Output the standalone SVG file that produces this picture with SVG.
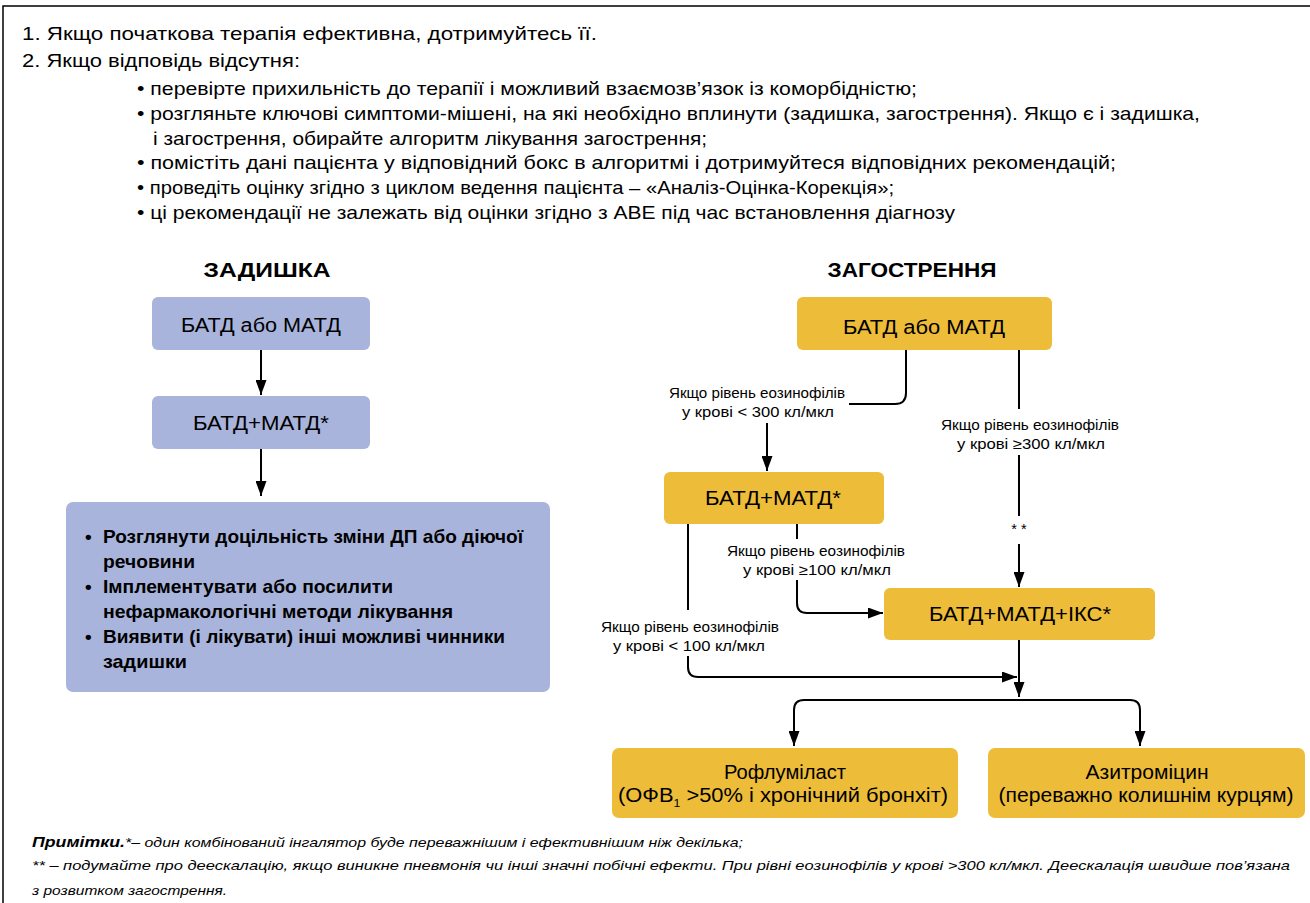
<svg xmlns="http://www.w3.org/2000/svg" width="1310" height="903" viewBox="0 0 1310 903">
<defs>
<marker id="arr" viewBox="0 0 15 11" refX="15" refY="5.5" markerWidth="15" markerHeight="11" markerUnits="userSpaceOnUse" orient="auto">
<path d="M0,0 L15,5.5 L0,11 z" fill="#000"/>
</marker>
<style>
.t{font-family:"Liberation Sans",Arial,sans-serif;fill:#000}
.top{font-size:18.5px}
.h{font-size:21px;font-weight:bold;text-anchor:middle}
.bx{font-size:19.5px;text-anchor:middle}
.lst{font-size:19px;font-weight:bold}
.lb{font-size:14.5px;text-anchor:middle}
.nt{font-size:13px;font-style:italic}
.blue{fill:#A8B4DB}
.org{fill:#EDBC38}
.ln{fill:none;stroke:#000;stroke-width:2}
</style>
</defs>
<rect width="1310" height="903" fill="#fff"/>
<path d="M3,903 V6 H1310" fill="none" stroke="#000" stroke-width="1.5"/>

<g id="intro">
<text class="t top" x="22" y="40" textLength="575" lengthAdjust="spacingAndGlyphs">1. Якщо початкова терапія ефективна, дотримуйтесь її.</text>
<text class="t top" x="22" y="67" textLength="278" lengthAdjust="spacingAndGlyphs">2. Якщо відповідь відсутня:</text>
<text class="t top" x="137" y="95" textLength="780" lengthAdjust="spacingAndGlyphs">• перевірте прихильність до терапії і можливий взаємозв’язок із коморбідністю;</text>
<text class="t top" x="137" y="120" textLength="1063" lengthAdjust="spacingAndGlyphs">• розгляньте ключові симптоми-мішені, на які необхідно вплинути (задишка, загострення). Якщо є і задишка,</text>
<text class="t top" x="153" y="145" textLength="554" lengthAdjust="spacingAndGlyphs">і загострення, обирайте алгоритм лікування загострення;</text>
<text class="t top" x="137" y="169" textLength="979" lengthAdjust="spacingAndGlyphs">• помістіть дані пацієнта у відповідний бокс в алгоритмі і дотримуйтеся відповідних рекомендацій;</text>
<text class="t top" x="137" y="194" textLength="757" lengthAdjust="spacingAndGlyphs">• проведіть оцінку згідно з циклом ведення пацієнта – «Аналіз-Оцінка-Корекція»;</text>
<text class="t top" x="137" y="219" textLength="818" lengthAdjust="spacingAndGlyphs">• ці рекомендації не залежать від оцінки згідно з АВЕ під час встановлення діагнозу</text>
</g>

<g id="title-dyspnea"><text class="t h" x="267" y="277" textLength="127" lengthAdjust="spacingAndGlyphs">ЗАДИШКА</text></g>
<g id="title-exacerbation"><text class="t h" x="912" y="277" textLength="169" lengthAdjust="spacingAndGlyphs">ЗАГОСТРЕННЯ</text></g>

<g id="connectors">
<path class="ln" d="M261,350 V395" marker-end="url(#arr)"/>
<path class="ln" d="M261,449 V496" marker-end="url(#arr)"/>
<path class="ln" d="M906,350 V393 Q906,404 895,404 H849"/>
<path class="ln" d="M767,423 V471" marker-end="url(#arr)"/>
<path class="ln" d="M1019,350 V409"/>
<path class="ln" d="M1019,455 V516"/>
<path class="ln" d="M1019,544 V587" marker-end="url(#arr)"/>
<path class="ln" d="M797,524 V539"/>
<path class="ln" d="M797,580 V603 Q797,613 807,613 H883" marker-end="url(#arr)"/>
<path class="ln" d="M688,524 V610"/>
<path class="ln" d="M688,656 V667 Q688,677 698,677 H1017" marker-end="url(#arr)"/>
<path class="ln" d="M1019,640 V697" marker-end="url(#arr)"/>
<path class="ln" d="M1019,700 H804 Q794,700 794,710 V746" marker-end="url(#arr)"/>
<path class="ln" d="M1019,700 H1130 Q1140,700 1140,710 V746" marker-end="url(#arr)"/>
<text class="t lb" x="757" y="398" textLength="176" lengthAdjust="spacingAndGlyphs">Якщо рівень еозинофілів</text>
<text class="t lb" x="758" y="417" textLength="152" lengthAdjust="spacingAndGlyphs">у крові &lt; 300 кл/мкл</text>
<text class="t lb" x="1030" y="430" textLength="178" lengthAdjust="spacingAndGlyphs">Якщо рівень еозинофілів</text>
<text class="t lb" x="1031" y="449" textLength="148" lengthAdjust="spacingAndGlyphs">у крові ≥300 кл/мкл</text>
<text class="t lb" x="1019" y="534">* *</text>
<text class="t lb" x="816" y="556" textLength="178" lengthAdjust="spacingAndGlyphs">Якщо рівень еозинофілів</text>
<text class="t lb" x="817" y="575" textLength="148" lengthAdjust="spacingAndGlyphs">у крові ≥100 кл/мкл</text>
<text class="t lb" x="690" y="632" textLength="178" lengthAdjust="spacingAndGlyphs">Якщо рівень еозинофілів</text>
<text class="t lb" x="689" y="651" textLength="152" lengthAdjust="spacingAndGlyphs">у крові &lt; 100 кл/мкл</text>
</g>

<g id="d1"><rect class="blue" x="152" y="297" width="218" height="53" rx="6"/>
<text class="t bx" x="261" y="332" textLength="160" lengthAdjust="spacingAndGlyphs">БАТД або МАТД</text></g>
<g id="d2"><rect class="blue" x="152" y="396" width="218" height="53" rx="6"/>
<text class="t bx" x="261" y="430" textLength="136" lengthAdjust="spacingAndGlyphs">БАТД+МАТД*</text></g>
<g id="d3"><rect class="blue" x="66" y="502" width="484" height="190" rx="7"/>
<text class="t lst" x="85" y="543">•</text>
<text class="t lst" x="103" y="543" textLength="420" lengthAdjust="spacingAndGlyphs">Розглянути доцільність зміни ДП або діючої</text>
<text class="t lst" x="103" y="568" textLength="92" lengthAdjust="spacingAndGlyphs">речовини</text>
<text class="t lst" x="85" y="593">•</text>
<text class="t lst" x="103" y="593" textLength="290" lengthAdjust="spacingAndGlyphs">Імплементувати або посилити</text>
<text class="t lst" x="103" y="618" textLength="350" lengthAdjust="spacingAndGlyphs">нефармакологічні методи лікування</text>
<text class="t lst" x="85" y="643">•</text>
<text class="t lst" x="103" y="643" textLength="402" lengthAdjust="spacingAndGlyphs">Виявити (і лікувати) інші можливі чинники</text>
<text class="t lst" x="103" y="668" textLength="84" lengthAdjust="spacingAndGlyphs">задишки</text></g>

<g id="e1"><rect class="org" x="797" y="297" width="255" height="53" rx="6"/>
<text class="t bx" x="924" y="334" textLength="162" lengthAdjust="spacingAndGlyphs">БАТД або МАТД</text></g>
<g id="e2"><rect class="org" x="664" y="472" width="220" height="52" rx="6"/>
<text class="t bx" x="773" y="505" textLength="136" lengthAdjust="spacingAndGlyphs">БАТД+МАТД*</text></g>
<g id="e3"><rect class="org" x="884" y="588" width="271" height="52" rx="6"/>
<text class="t bx" x="1020" y="621" textLength="182" lengthAdjust="spacingAndGlyphs">БАТД+МАТД+ІКС*</text></g>
<g id="e4"><rect class="org" x="612" y="748" width="346" height="70" rx="7"/>
<text class="t bx" x="785" y="779" textLength="122" lengthAdjust="spacingAndGlyphs">Рофлуміласт</text>
<text class="t bx" x="783" y="802" textLength="330" lengthAdjust="spacingAndGlyphs">(ОФВ<tspan font-size="11" dy="5">1</tspan><tspan dy="-5"> &gt;50% і хронічний бронхіт)</tspan></text></g>
<g id="e5"><rect class="org" x="988" y="748" width="317" height="70" rx="7"/>
<text class="t bx" x="1147" y="779" textLength="123" lengthAdjust="spacingAndGlyphs">Азитроміцин</text>
<text class="t bx" x="1146" y="802" textLength="295" lengthAdjust="spacingAndGlyphs">(переважно колишнім курцям)</text></g>

<g id="notes">
<text class="t nt" x="32" y="847" textLength="711" lengthAdjust="spacingAndGlyphs"><tspan font-weight="bold" font-size="14.5">Примітки.</tspan>*– один комбінований інгалятор буде переважнішим і ефективнішим ніж декілька;</text>
<text class="t nt" x="32" y="870" textLength="1258" lengthAdjust="spacingAndGlyphs">** – подумайте про деескалацію, якщо виникне пневмонія чи інші значні побічні ефекти. При рівні еозинофілів у крові &gt;300 кл/мкл. Деескалація швидше пов’язана</text>
<text class="t nt" x="32" y="895" textLength="195" lengthAdjust="spacingAndGlyphs">з розвитком загострення.</text>
</g>
</svg>
